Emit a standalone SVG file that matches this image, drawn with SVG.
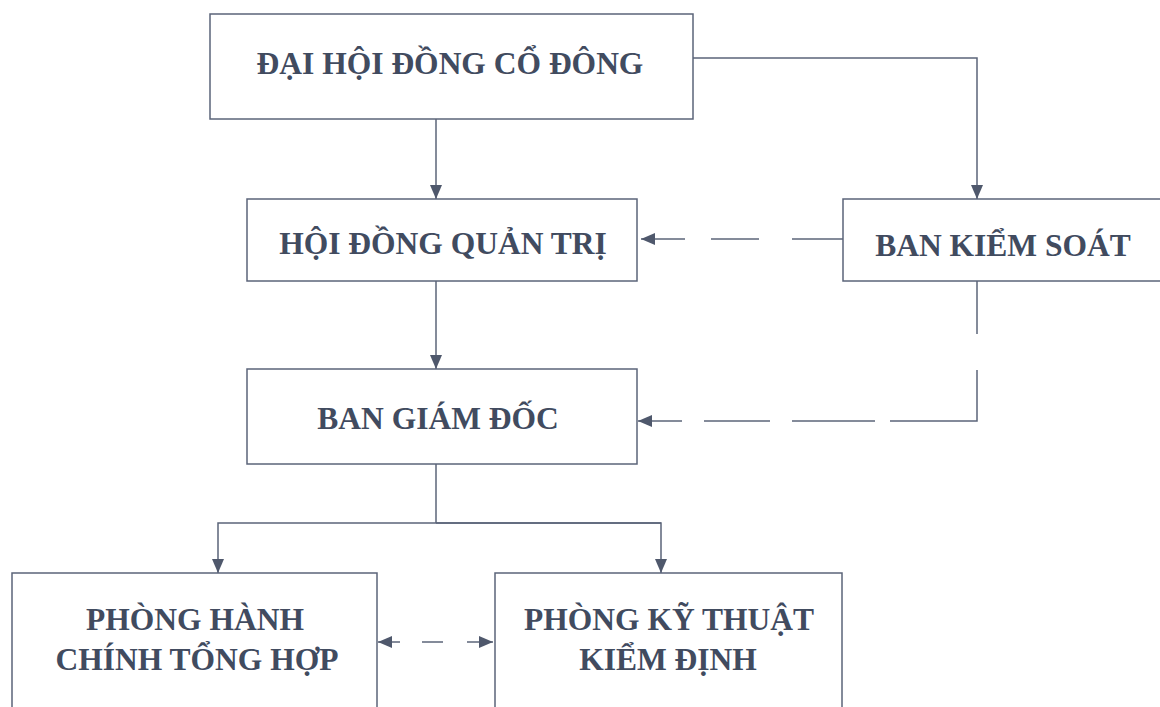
<svg xmlns="http://www.w3.org/2000/svg" width="1160" height="707" viewBox="0 0 1160 707">
<defs>
<style>
.box{fill:#ffffff;stroke:#5b6479;stroke-width:1.5}
.t{font-family:"Liberation Serif","Times New Roman",serif;font-weight:bold;font-size:31.5px;fill:#414b5f;text-anchor:middle}
.c{fill:none;stroke:#5b6479;stroke-width:1.5}
</style>
<marker id="ah" markerUnits="userSpaceOnUse" markerWidth="16" markerHeight="14" refX="14" refY="6" orient="auto">
<path d="M0,0 L14,6 L0,12 Z" fill="#4f586c"/>
</marker>
</defs>
<rect width="1160" height="707" fill="#ffffff"/>
<g id="connectors">
<line class="c" x1="436" y1="119" x2="436" y2="199" marker-end="url(#ah)"/>
<polyline class="c" points="693,58 977,58 977,199" marker-end="url(#ah)"/>
<line class="c" x1="843" y1="239" x2="792" y2="239"/>
<line class="c" x1="759" y1="239" x2="711" y2="239"/>
<line class="c" x1="685" y1="239" x2="641" y2="239" marker-end="url(#ah)"/>
<line class="c" x1="977" y1="281" x2="977" y2="334"/>
<polyline class="c" points="977,370 977,421 890,421"/>
<line class="c" x1="875" y1="421" x2="792" y2="421"/>
<line class="c" x1="770" y1="421" x2="704" y2="421"/>
<line class="c" x1="682" y1="421" x2="638" y2="421" marker-end="url(#ah)"/>
<line class="c" x1="436" y1="281" x2="436" y2="369" marker-end="url(#ah)"/>
<line class="c" x1="436" y1="464" x2="436" y2="523"/>
<polyline class="c" points="661,523 218,523 218,573" marker-end="url(#ah)"/>
<polyline class="c" points="436,523 661,523 661,573" marker-end="url(#ah)"/>
<line class="c" x1="400" y1="642" x2="378" y2="642" marker-end="url(#ah)"/>
<line class="c" x1="422" y1="642" x2="443" y2="642"/>
<line class="c" x1="467" y1="642" x2="493" y2="642" marker-end="url(#ah)"/>
</g>
<g id="dai-hoi-dong-co-dong">
<rect class="box" x="210" y="14" width="483" height="105"/>
<text class="t" x="450" y="74">ĐẠI HỘI ĐỒNG CỔ ĐÔNG</text>
</g>
<g id="hoi-dong-quan-tri">
<rect class="box" x="247" y="199" width="390" height="82"/>
<text class="t" x="443" y="254">HỘI ĐỒNG QUẢN TRỊ</text>
</g>
<g id="ban-kiem-soat">
<rect class="box" x="843" y="199" width="330" height="82"/>
<text class="t" x="1003" y="256">BAN KIỂM SOÁT</text>
</g>
<g id="ban-giam-doc">
<rect class="box" x="247" y="369" width="390" height="95"/>
<text class="t" x="438" y="429">BAN GIÁM ĐỐC</text>
</g>
<g id="phong-hanh-chinh-tong-hop">
<rect class="box" x="12" y="573" width="365" height="150"/>
<text class="t" x="195" y="630">PHÒNG HÀNH</text>
<text class="t" x="197" y="670">CHÍNH TỔNG HỢP</text>
</g>
<g id="phong-ky-thuat-kiem-dinh">
<rect class="box" x="495" y="573" width="347" height="150"/>
<text class="t" x="669" y="630">PHÒNG KỸ THUẬT</text>
<text class="t" x="668" y="670">KIỂM ĐỊNH</text>
</g>
</svg>
